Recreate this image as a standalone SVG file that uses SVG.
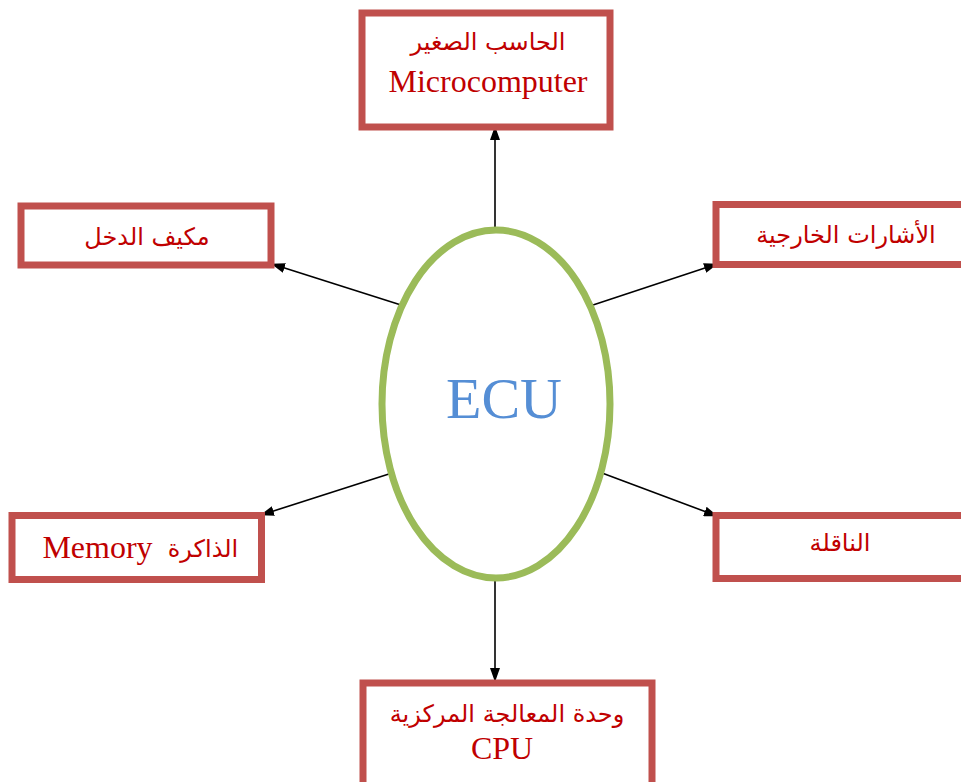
<svg xmlns="http://www.w3.org/2000/svg" width="961" height="782" viewBox="0 0 961 782">
<defs>
<style>
.box{fill:#fff;stroke:#C0504D;stroke-width:7}
.lat{font-family:"Liberation Serif","Times New Roman",serif;font-size:32px;fill:#C00000;text-anchor:middle}
.ar{font-family:"DejaVu Sans","Noto Sans",sans-serif;font-size:24px;fill:#C00000;text-anchor:middle}
.con{stroke:#000;stroke-width:1.6;fill:none;marker-end:url(#ah)}
</style>
<marker id="ah" markerWidth="14" markerHeight="10" refX="13" refY="5" orient="auto" markerUnits="userSpaceOnUse" viewBox="0 0 14 10">
<path d="M0,0 L14,5 L0,10 Z" fill="#000"/>
</marker>
</defs>
<rect width="961" height="782" fill="#fff"/>
<g id="connectors">
<line class="con" x1="495" y1="228" x2="495" y2="127"/>
<line class="con" x1="495" y1="580" x2="495" y2="681"/>
<line class="con" x1="401" y1="305" x2="272" y2="264"/>
<line class="con" x1="593" y1="305" x2="717" y2="264"/>
<line class="con" x1="392" y1="473" x2="261" y2="515"/>
<line class="con" x1="602" y1="473" x2="717" y2="516"/>
</g>
<g id="ecu">
<ellipse cx="496" cy="404" rx="114" ry="174" fill="#fff" stroke="#9BBB59" stroke-width="7"/>
<text x="504" y="418" font-family="Liberation Serif,serif" font-size="58" fill="#558ED5" text-anchor="middle">ECU</text>
</g>
<g id="microcomputer">
<rect class="box" x="362" y="13" width="248" height="114"/>
<text class="ar" x="488" y="50">الحاسب الصغير</text>
<text class="lat" x="488" y="92">Microcomputer</text>
</g>
<g id="input">
<rect class="box" x="21" y="206" width="250" height="59"/>
<text class="ar" x="147" y="245">مكيف الدخل</text>
</g>
<g id="external">
<rect class="box" x="716" y="204.5" width="260" height="60"/>
<text class="ar" x="846" y="243" font-size="26">الأشارات الخارجية</text>
</g>
<g id="memory">
<rect class="box" x="12" y="515.5" width="249.5" height="64"/>
<text class="lat" x="97.5" y="558">Memory</text>
<text class="ar" x="203" y="557">الذاكرة</text>
</g>
<g id="bus">
<rect class="box" x="716" y="515.5" width="260" height="63"/>
<text class="ar" x="840" y="551">الناقلة</text>
</g>
<g id="cpu">
<rect class="box" x="363" y="683" width="289" height="110"/>
<text class="ar" x="507" y="722">وحدة المعالجة المركزية</text>
<text class="lat" x="502" y="759">CPU</text>
</g>
</svg>
